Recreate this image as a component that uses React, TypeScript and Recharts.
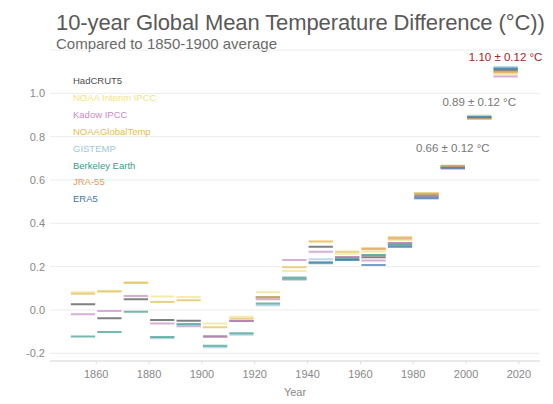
import * as React from "react"
import {
  LineChart,
  Line,
  XAxis,
  YAxis,
  CartesianGrid,
  ReferenceDot,
} from "recharts"

const decades = [1850, 1860, 1870, 1880, 1890, 1900, 1910, 1920, 1930, 1940, 1950, 1960, 1970, 1980, 1990, 2000, 2010]

const seriesNames = [
  "HadCRUT5",
  "NOAA Interim IPCC",
  "Kadow IPCC",
  "NOAAGlobalTemp",
  "GISTEMP",
  "Berkeley Earth",
  "JRA-55",
  "ERA5",
]

const seriesColors = ["#4a4a4a", "#efe38a", "#c98cc4", "#e3bd55", "#9cc9dc", "#3b9a8c", "#e69a5e", "#3f78a8"]

const hadcrut5 = [0.026, -0.038, 0.049, -0.046, -0.05, -0.123, -0.051, 0.059, 0.142, 0.292, 0.243, 0.243, 0.308, 0.523, 0.659, 0.888, 1.105]
const noaaInterim = [0.082, 0.088, 0.129, 0.062, 0.06, -0.062, -0.031, 0.082, 0.18, 0.316, 0.259, 0.269, 0.323, 0.539, 0.666, 0.896, 1.088]
const kadow = [-0.02, -0.005, 0.065, -0.062, -0.075, -0.123, -0.051, 0.049, 0.231, 0.269, 0.243, 0.228, 0.308, 0.523, 0.652, 0.888, 1.078]
const noaaGlobal = [0.075, 0.085, 0.125, 0.037, 0.045, -0.08, -0.04, 0.059, 0.197, 0.316, 0.269, 0.285, 0.336, 0.539, 0.666, 0.881, 1.096]
const gistemp = [null, null, null, -0.131, -0.07, -0.172, -0.114, 0.022, 0.142, 0.234, 0.231, 0.254, 0.292, 0.516, 0.659, 0.896, 1.121]
const berkeley = [-0.123, -0.102, -0.008, -0.125, -0.065, -0.165, -0.108, 0.03, 0.15, 0.216, 0.235, 0.254, 0.3, 0.53, 0.662, 0.89, 1.112]
const jra55 = [null, null, null, null, null, null, null, null, null, null, null, 0.28, 0.33, 0.535, 0.66, 0.885, 1.1]
const era5 = [null, null, null, null, null, null, null, null, null, 0.22, 0.231, 0.208, 0.292, 0.516, 0.655, 0.89, 1.115]

const seriesValues = [hadcrut5, noaaInterim, kadow, noaaGlobal, gistemp, berkeley, jra55, era5]

const yTicks = [-0.2, 0, 0.2, 0.4, 0.6, 0.8, 1.0]
const xTicks = [1860, 1880, 1900, 1920, 1940, 1960, 1980, 2000, 2020]

const noteYears = [1995, 2005, 2015]
const noteValues = [0.748, 0.962, 1.17]
const noteTexts = ["0.66 ± 0.12 °C", "0.89 ± 0.12 °C", "1.10 ± 0.12 °C"]
const noteColors = ["#777777", "#777777", "#9b2a22"]

// each decade becomes a short flat segment; a null point breaks the line between decades
function segments(values: (number | null)[]) {
  const pts: { year: number; v: number | null }[] = []
  decades.forEach((d, i) => {
    const v = values[i]
    if (v === null) return
    pts.push({ year: d + 0.4, v })
    pts.push({ year: d + 9.6, v })
    pts.push({ year: d + 9.8, v: null })
  })
  return pts
}

const font = "'Liberation Sans', Arial, sans-serif"

export default function App() {
  return (
    <div style={{ position: "absolute", left: 0, top: 0, width: 553, height: 404, background: "#fff" }}>
      <div
        style={{
          position: "absolute",
          left: 56,
          top: 10,
          fontFamily: font,
          fontSize: 22,
          color: "#595959",
          whiteSpace: "nowrap",
          letterSpacing: -0.1,
        }}
      >
        10-year Global Mean Temperature Difference (°C))
      </div>
      <div
        style={{
          position: "absolute",
          left: 56,
          top: 35,
          fontFamily: font,
          fontSize: 15,
          color: "#6a6a6a",
          whiteSpace: "nowrap",
        }}
      >
        Compared to 1850-1900 average
      </div>
      <LineChart width={553} height={404} margin={{ top: 50, right: 13, bottom: 0, left: 0 }}>
        <CartesianGrid vertical={false} stroke="#ececec" />
        <XAxis
          type="number"
          dataKey="year"
          domain={[1842.5, 2028]}
          ticks={xTicks}
          allowDataOverflow
          height={43}
          tick={{ fontSize: 11, fill: "#888", fontFamily: font }}
          tickSize={3}
          tickMargin={6}
          stroke="#dcdcdc"
          label={{ value: "Year", position: "insideBottom", offset: 8, fontSize: 11, fill: "#888", fontFamily: font }}
        />
        <YAxis
          type="number"
          domain={[-0.2356, 1.2]}
          ticks={yTicks}
          allowDataOverflow
          width={50}
          axisLine={false}
          tickLine={false}
          tickSize={3}
          tickMargin={2}
          tickFormatter={(v: number) => v.toFixed(1)}
          tick={{ fontSize: 11, fill: "#888", fontFamily: font }}
        />
        {seriesValues.map((vals, i) => (
          <Line
            key={seriesNames[i]}
            name={seriesNames[i]}
            data={segments(vals)}
            dataKey="v"
            stroke={seriesColors[i]}
            strokeWidth={2}
            strokeOpacity={0.7}
            dot={false}
            activeDot={false}
            connectNulls={false}
            isAnimationActive={false}
            legendType="none"
          />
        ))}
        {noteYears.map((yr, i) => (
          <ReferenceDot
            key={noteTexts[i]}
            x={yr}
            y={noteValues[i]}
            r={0}
            stroke="none"
            label={{ value: noteTexts[i], position: "center", fontSize: 11.5, fill: noteColors[i], fontFamily: font }}
          />
        ))}
      </LineChart>
      <div
        style={{
          position: "absolute",
          left: 73,
          top: 73,
          fontFamily: font,
          fontSize: 9.5,
          lineHeight: "16.9px",
        }}
      >
        {seriesNames.map((n, i) => (
          <div key={n} style={{ color: seriesColors[i] }}>{n}</div>
        ))}
      </div>
    </div>
  )
}
